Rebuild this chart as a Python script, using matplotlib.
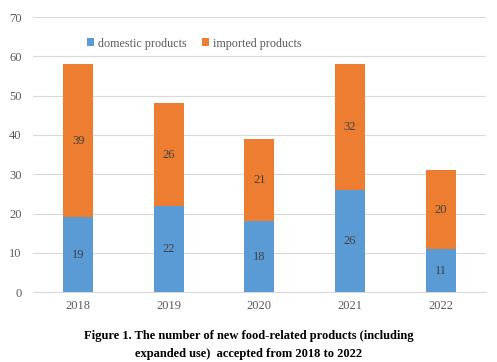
import matplotlib
matplotlib.use('Agg')
import matplotlib.pyplot as plt
import numpy as np

years = ['2018', '2019', '2020', '2021', '2022']
domestic = [19, 22, 18, 26, 11]
imported = [39, 26, 21, 32, 20]

plt.rcParams['font.family'] = ['Liberation Serif', 'DejaVu Serif']

fig = plt.figure(figsize=(4.97, 3.62), dpi=100)
ax = fig.add_axes([0.066, 0.193, 0.912, 0.76])

x = np.arange(len(years))
w = 0.33
b1 = ax.bar(x, domestic, w, color='#5B9BD5', label='domestic products', zorder=3)
b2 = ax.bar(x, imported, w, bottom=domestic, color='#ED7D31', label='imported products', zorder=3)

for i in range(len(years)):
    ax.text(x[i], domestic[i] / 2, str(domestic[i]), ha='center', va='center',
            fontsize=9, color='#404040', zorder=4)
    ax.text(x[i], domestic[i] + imported[i] / 2, str(imported[i]), ha='center', va='center',
            fontsize=9, color='#404040', zorder=4)

ax.set_ylim(0, 70)
ax.set_yticks(range(0, 71, 10))
ax.set_xlim(-0.5, len(years) - 0.5)
ax.set_xticks(x)
ax.set_xticklabels(years)
ax.grid(axis='y', color='#D9D9D9', linewidth=0.8, zorder=0)
for s in ['top', 'right', 'left']:
    ax.spines[s].set_visible(False)
ax.spines['bottom'].set_color('#D9D9D9')
ax.tick_params(axis='both', length=0, labelsize=9, labelcolor='#595959')
ax.tick_params(axis='y', pad=8)
ax.tick_params(axis='x', pad=6)

leg = ax.legend(loc='upper left', bbox_to_anchor=(0.095, 0.965), ncol=2, frameon=False,
                fontsize=8.7, handlelength=0.6, handleheight=0.6, handletextpad=0.3,
                columnspacing=1.3, labelcolor='#595959')

fig.text(0.5, 0.072, 'Figure 1. The number of new food-related products (including',
         ha='center', va='center', fontsize=9, fontweight='bold')
fig.text(0.5, 0.023, 'expanded use)  accepted from 2018 to 2022',
         ha='center', va='center', fontsize=9, fontweight='bold')

fig.savefig('out.png', dpi=100)
